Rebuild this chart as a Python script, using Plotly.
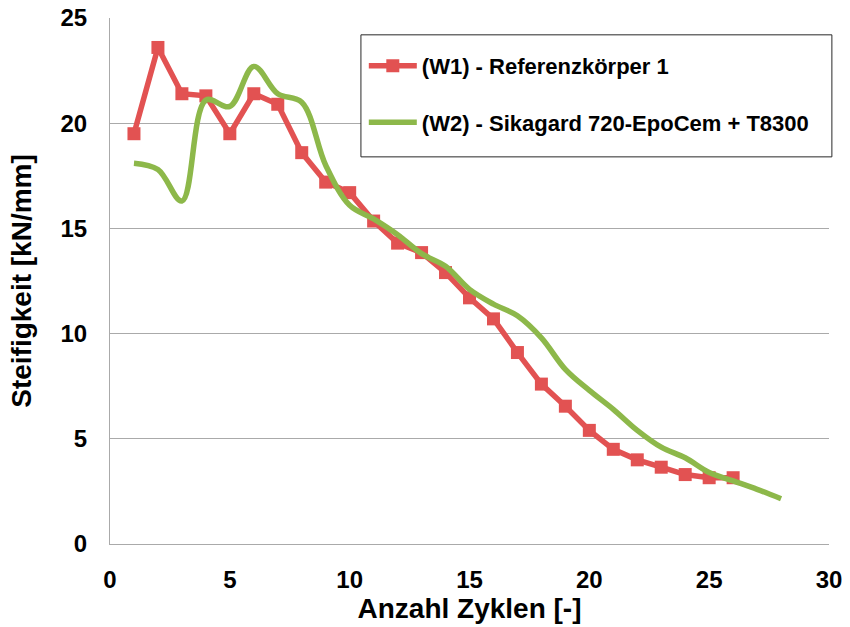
import plotly.graph_objects as go

# Stiffness per load cycle
cycles_w1 = list(range(1, 27))
stiff_w1 = [19.5, 23.6, 21.4, 21.3, 19.5, 21.4, 20.9, 18.6, 17.2, 16.7,
            15.35, 14.3, 13.85, 12.9, 11.7, 10.7, 9.1, 7.6, 6.55, 5.4,
            4.5, 4.0, 3.65, 3.3, 3.15, 3.15]

cycles_w2 = list(range(1, 29))
stiff_w2 = [18.1, 17.8, 16.3, 21.1, 20.8, 22.7, 21.4, 21.0, 18.0, 16.1,
            15.45, 14.7, 13.8, 13.2, 12.1, 11.4, 10.85, 9.8, 8.3, 7.3,
            6.4, 5.4, 4.6, 4.1, 3.4, 3.0, 2.6, 2.15]

name_w1 = "(W1) - Referenzkörper 1"
name_w2 = "(W2) - Sikagard 720-EpoCem + T8300"

x_ticks = [0, 5, 10, 15, 20, 25, 30]
y_ticks = [0, 5, 10, 15, 20, 25]

RED = "rgb(226,82,82)"
GREEN = "rgb(141,184,74)"
GRID = "rgb(170,170,170)"
FONT = "Liberation Sans, Arial, sans-serif"

fig = go.Figure()
fig.add_trace(go.Scatter(
    x=cycles_w1, y=stiff_w1, name=name_w1, mode="lines+markers",
    line=dict(color=RED, width=5.5),
    marker=dict(symbol="square", size=13, color=RED),
    legendgroup="w1",
))
fig.add_trace(go.Scatter(
    x=cycles_w2, y=stiff_w2, name=name_w2, mode="lines",
    line=dict(color=GREEN, width=5.5, shape="spline", smoothing=1.0),
    legendgroup="w2",
))

# legend frame drawn as a shape so its padding can be set freely
fig.add_shape(
    type="rect", xref="paper", yref="paper",
    x0=0.349, x1=1.004, y0=0.736, y1=0.968,
    line=dict(color="rgb(40,40,40)", width=1), fillcolor="white", layer="above",
)

fig.update_layout(
    width=850, height=627,
    margin=dict(l=110, r=21, t=18, b=83),
    paper_bgcolor="white", plot_bgcolor="white",
    font=dict(family=FONT, color="black"),
    legend=dict(
        x=0.353, y=0.949, xanchor="left", yanchor="top",
        bgcolor="rgba(0,0,0,0)", borderwidth=0,
        font=dict(size=22, family=FONT, color="black", weight="bold"),
        tracegroupgap=25, itemwidth=48, traceorder="grouped",
    ),
    xaxis=dict(
        range=[0, 30], tickvals=x_ticks, showgrid=False, automargin=False,
        showline=True, linecolor=GRID, linewidth=1, ticks="",
        tickfont=dict(size=24, family=FONT, weight="bold"),
        ticklabelstandoff=14,
        title=dict(text="<b>Anzahl Zyklen [-]</b>", font=dict(size=28, family=FONT), standoff=6),
        zeroline=False,
    ),
    yaxis=dict(
        range=[0, 25], tickvals=y_ticks, showgrid=True, gridcolor=GRID, gridwidth=1,
        automargin=False,
        showline=True, linecolor=GRID, linewidth=1, ticks="",
        tickfont=dict(size=24, family=FONT, weight="bold"),
        ticklabelstandoff=17,
        title=dict(text="<b>Steifigkeit [kN/mm]</b>", font=dict(size=28, family=FONT), standoff=20),
        zeroline=False,
    ),
)

fig.write_html("out.html")
